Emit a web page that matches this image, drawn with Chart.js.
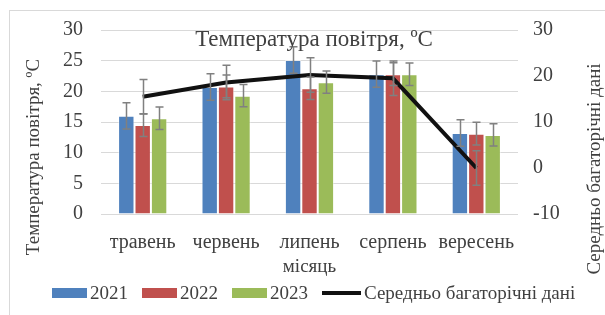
<!DOCTYPE html>
<html>
<head>
<meta charset="utf-8">
<script src="https://cdn.jsdelivr.net/npm/chart.js@4"></script>
<style>
  body { margin: 0; background: #fff; }
  canvas { display: block; }
</style>
</head>
<body>
<canvas id="tempChart" width="605" height="315"></canvas>
<script>
// data
const months = ['травень', 'червень', 'липень', 'серпень', 'вересень'];
const temp2021 = [16.0, 20.7, 25.1, 22.8, 13.2];
const temp2022 = [14.5, 20.8, 20.5, 22.8, 13.1];
const temp2023 = [15.6, 19.3, 21.5, 22.8, 12.9];
const longTerm = [15.5, 18.6, 20.2, 19.5, 0];
const err2021 = [2.15, 2.15, 2.15, 2.15, 2.15];
const err2022 = [1.85, 1.85, 1.85, 1.85, 1.85];
const err2023 = [1.83, 1.83, 1.83, 1.83, 1.83];
const errLongTerm = [3.75, 3.75, 3.75, 3.75, 3.75];

const FONT = '"Liberation Serif", "Times New Roman", serif';
const TEXT = '#404040';

// error bars drawn from the dataset values through the scales
const errorBars = {
  id: 'errorBars',
  afterDatasetsDraw(chart) {
    const ctx = chart.ctx;
    ctx.save();
    ctx.strokeStyle = '#808080';
    ctx.lineWidth = 1.5;
    chart.data.datasets.forEach((ds, i) => {
      if (!ds.errors) return;
      const meta = chart.getDatasetMeta(i);
      const scale = chart.scales[meta.yAxisID];
      meta.data.forEach((el, j) => {
        const v = ds.data[j];
        const e = ds.errors[j];
        const x = Math.round(el.x) + 0.5;
        const top = scale.getPixelForValue(v + e);
        const bot = scale.getPixelForValue(v - e);
        ctx.beginPath();
        ctx.moveTo(x, top); ctx.lineTo(x, bot);
        ctx.moveTo(x - 4, top); ctx.lineTo(x + 4, top);
        ctx.moveTo(x - 4, bot); ctx.lineTo(x + 4, bot);
        ctx.stroke();
      });
    });
    ctx.restore();
  }
};

// frame, titles and legend
const decorations = {
  id: 'decorations',
  beforeDraw(chart) {
    const ctx = chart.ctx;
    ctx.save();
    ctx.fillStyle = '#fff';
    ctx.fillRect(0, 0, chart.width, chart.height);
    ctx.strokeStyle = '#d9d9d9';
    ctx.lineWidth = 1;
    ctx.strokeRect(9.5, 10.5, 700, 400);
    ctx.restore();
  },
  afterDraw(chart) {
    const ctx = chart.ctx;
    const area = chart.chartArea;
    ctx.save();
    ctx.fillStyle = TEXT;
    ctx.textBaseline = 'alphabetic';

    // chart title
    ctx.font = '23px ' + FONT;
    ctx.textAlign = 'center';
    ctx.fillText('Температура повітря, ºC', 314, 46);

    // x axis title
    ctx.font = '19px ' + FONT;
    ctx.textBaseline = 'middle';
    ctx.fillText('місяць', (area.left + area.right) / 2, 267);

    // y axis titles
    ctx.save();
    ctx.translate(34, 157);
    ctx.rotate(-Math.PI / 2);
    ctx.fillText('Температура повітря, ºC', 0, 0);
    ctx.restore();
    ctx.save();
    ctx.translate(595, 169);
    ctx.rotate(-Math.PI / 2);
    ctx.fillText('Середньо багаторічні дані', 0, 0);
    ctx.restore();

    // legend
    ctx.textAlign = 'left';
    const y = 293;
    let x = 52;
    chart.data.datasets.forEach(ds => {
      if (ds.type === 'line') {
        ctx.strokeStyle = ds.borderColor;
        ctx.lineWidth = 4;
        ctx.beginPath();
        ctx.moveTo(x, y); ctx.lineTo(x + 39, y);
        ctx.stroke();
        x += 42;
      } else {
        ctx.fillStyle = ds.backgroundColor;
        ctx.fillRect(x, y - 5, 35, 10);
        x += 38;
      }
      ctx.fillStyle = TEXT;
      ctx.fillText(ds.label, x, y + 1);
      x += ctx.measureText(ds.label).width + 14;
    });
    ctx.restore();
  }
};

const barStyle = {
  borderColor: 'rgba(255,255,255,0.45)',
  borderWidth: 1,
  barPercentage: 1,
  categoryPercentage: 0.59,
  yAxisID: 'y',
  order: 1
};

new Chart(document.getElementById('tempChart'), {
  data: {
    labels: months,
    datasets: [
      Object.assign({ type: 'bar', label: '2021', data: temp2021, errors: err2021, backgroundColor: '#4F81BD' }, barStyle),
      Object.assign({ type: 'bar', label: '2022', data: temp2022, errors: err2022, backgroundColor: '#C0504D' }, barStyle),
      Object.assign({ type: 'bar', label: '2023', data: temp2023, errors: err2023, backgroundColor: '#9BBB59' }, barStyle),
      {
        type: 'line',
        label: 'Середньо багаторічні дані',
        data: longTerm,
        errors: errLongTerm,
        borderColor: '#111111',
        backgroundColor: '#111111',
        borderWidth: 4,
        pointRadius: 0,
        tension: 0,
        yAxisID: 'y1',
        order: 0
      }
    ]
  },
  options: {
    responsive: false,
    animation: false,
    layout: { padding: { top: 22, left: 0, right: 0, bottom: 0 } },
    plugins: {
      legend: { display: false },
      title: { display: false },
      tooltip: { enabled: false }
    },
    scales: {
      x: {
        grid: { display: false },
        border: { display: false },
        ticks: { color: TEXT, font: { family: FONT, size: 20 }, padding: 9, maxRotation: 0 },
        afterFit(scale) { scale.height = 101; }
      },
      y: {
        position: 'left',
        min: 0, max: 30,
        ticks: { stepSize: 5, color: TEXT, font: { family: FONT, size: 20 }, padding: 18 },
        grid: { color: '#d9d9d9', drawTicks: false },
        border: { display: false },
        afterFit(scale) { scale.width = 101; }
      },
      y1: {
        position: 'right',
        min: -10, max: 30,
        ticks: { stepSize: 10, color: TEXT, font: { family: FONT, size: 20 }, padding: 15 },
        grid: { display: false, drawTicks: false },
        border: { display: false },
        afterFit(scale) { scale.width = 87; }
      }
    }
  },
  plugins: [decorations, errorBars]
});
</script>
</body>
</html>
